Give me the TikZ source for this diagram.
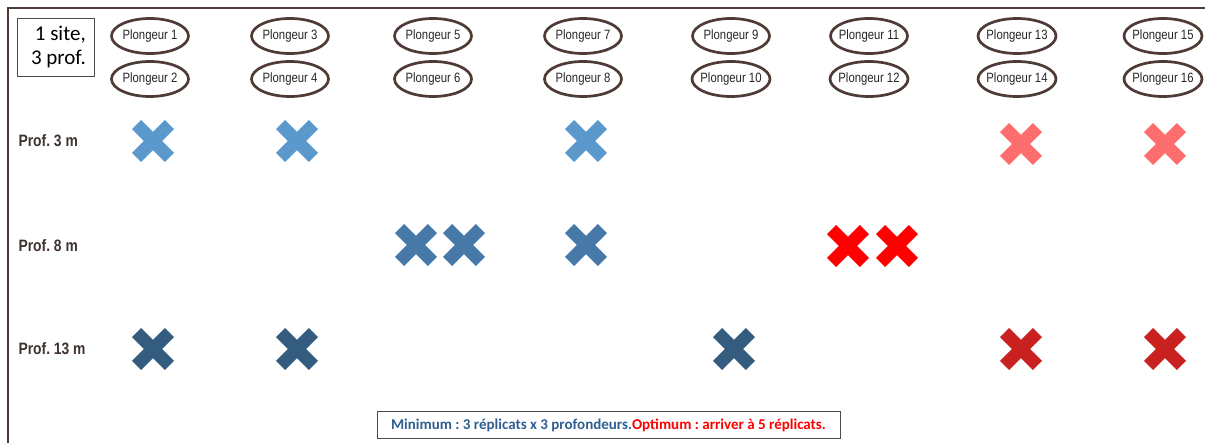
\documentclass[tikz,border=0pt]{standalone}
\usepackage{fontspec}
\setmainfont{Liberation Sans}
\newfontfamily\narrowf[FakeStretch=0.84]{Liberation Sans}
\newfontfamily\calib{Carlito}
\usetikzlibrary{shapes.geometric}
\definecolor{frame}{HTML}{4E3B36}
\definecolor{lbl}{HTML}{3F3130}
\definecolor{lblue}{HTML}{5B98CB}
\definecolor{mblue}{HTML}{4678A8}
\definecolor{dblue}{HTML}{345C7E}
\definecolor{salmon}{HTML}{FF6E6E}
\definecolor{xred}{HTML}{FF0000}
\definecolor{dred}{HTML}{C9211F}
\definecolor{boxblue}{HTML}{2F5F8F}
\frenchspacing
\begin{document}
\begin{tikzpicture}[x=1pt,y=-1pt,
  diver/.style={ellipse,draw=frame,line width=2.7pt,minimum width=77pt,minimum height=35pt,inner xsep=-3pt,inner ysep=0pt,
    font=\narrowf\fontsize{13.5}{15}\selectfont,text=black!85},
  depth/.style={anchor=west,font=\narrowf\bfseries\fontsize{16.5}{18}\selectfont,text=lbl},
  xm/.pic={\draw[line width=13pt,line cap=butt,#1] (-16.4,-16.4) -- (16.4,16.4) (-16.4,16.4) -- (16.4,-16.4);}]
\useasboundingbox (0,0) rectangle (1205,443);
% frame
\draw[frame,line width=2.5pt] (8,443) -- (8,8) -- (1205,8);
% site box
\node[draw=black!70,line width=0.8pt,minimum width=77pt,minimum height=58pt,inner sep=0pt] (site) at (56,47) {};
\node[anchor=east,align=right,font=\calib\fontsize{21}{24}\selectfont,inner sep=0pt] (sitetxt) at (86,47) {1 site,\\3 prof.};
% divers
\foreach \i/\x in {1/150,3/290,5/433,7/583,9/731,11/869,13/1017,15/1163}{
  \node[diver] (p\i) at (\x,36) {Plongeur \i};
}
\foreach \i/\x in {2/150,4/290,6/433,8/583,10/731,12/869,14/1017,16/1163}{
  \node[diver] (p\i) at (\x,79) {Plongeur \i};
}
% depth labels
\node[depth] (d3) at (15,141) {Prof. 3 m};
\node[depth] (d8) at (15,246) {Prof. 8 m};
\node[depth] (d13) at (15,349) {Prof. 13 m};
% crosses
\foreach \x in {153,297,586} \pic at (\x,141) {xm=lblue};
\foreach \x in {1021,1165} \pic at (\x,144) {xm=salmon};
\foreach \x in {416,464,586} \pic at (\x,245) {xm=mblue};
\foreach \x in {848,897} \pic at (\x,246) {xm=xred};
\foreach \x in {153,297,734} \pic at (\x,349) {xm=dblue};
\foreach \x in {1021,1165} \pic at (\x,349) {xm=dred};
% bottom note
\node[draw=black!70,line width=0.9pt,minimum width=463pt,minimum height=27pt,inner sep=0pt,
  font=\calib\bfseries\fontsize{15}{17}\selectfont] (note) at (608.5,425)
  {\textcolor{boxblue}{Minimum : 3 réplicats x 3 profondeurs.}\textcolor{xred}{Optimum : arriver à 5 réplicats.}};
\end{tikzpicture}
\end{document}
